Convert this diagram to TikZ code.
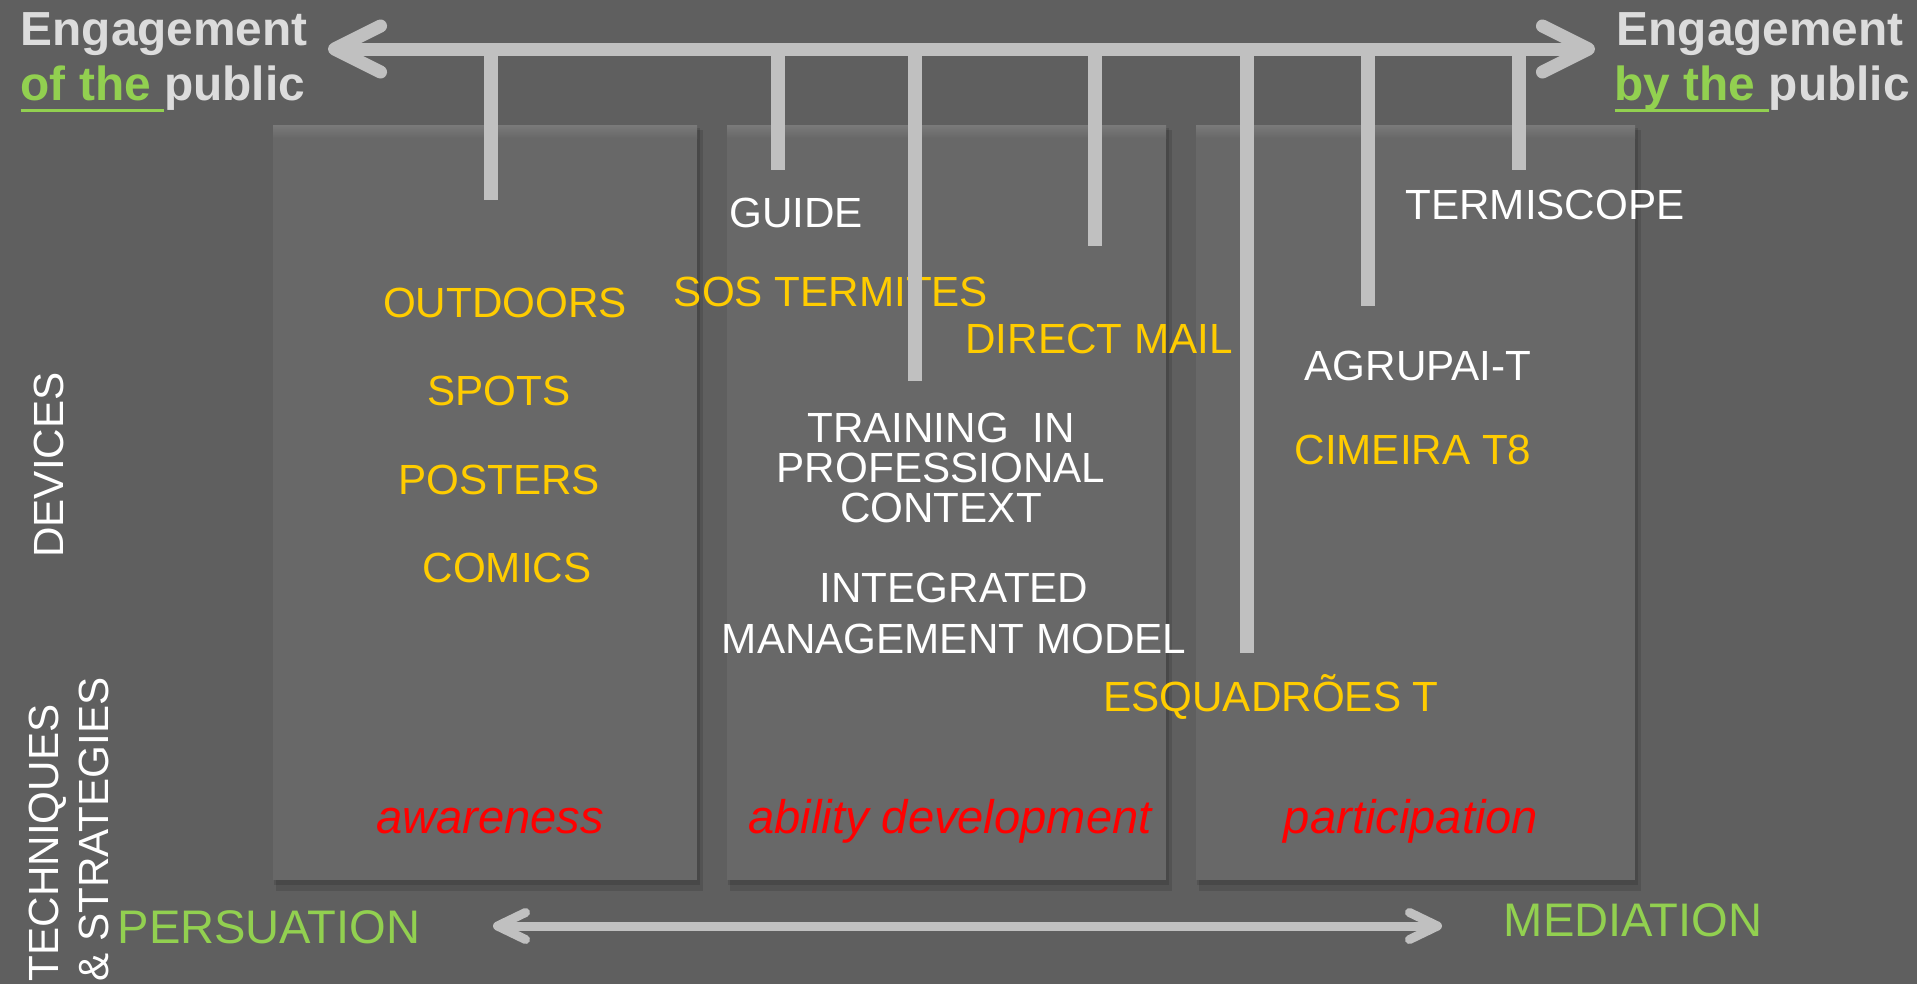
\documentclass[tikz,border=0pt]{standalone}
\usepackage{fontspec}
\setmainfont{Liberation Sans}
\usepackage{tikz}
\usetikzlibrary{arrows.meta}

\definecolor{bggray}{RGB}{95,95,95}
\definecolor{boxgray}{RGB}{104,104,104}
\definecolor{boxtop}{RGB}{122,122,122}
\definecolor{axisgray}{RGB}{192,192,192}
\definecolor{hdrgray}{RGB}{220,220,220}
\definecolor{devyellow}{RGB}{255,204,0}
\definecolor{polegreen}{RGB}{146,208,80}
\definecolor{stratred}{RGB}{255,0,0}

\newcommand{\grnul}[1]{\setbox0\hbox{\textcolor{polegreen}{#1}}\rlap{\textcolor{polegreen}{\rule[-3.4pt]{\wd0}{0.9pt}}}\box0}

\tikzset{
	hdr/.style={inner sep=0pt, anchor=base west, text=hdrgray, font=\bfseries\fontsize{13.6}{16}\selectfont},
	devtxt/.style={inner sep=0pt, align=center, font=\fontsize{12}{14}\selectfont},
	yel/.style={devtxt, text=devyellow},
	wht/.style={devtxt, text=white},
	strat/.style={inner sep=0pt, anchor=base, text=stratred, font=\itshape\fontsize{13.4}{16}\selectfont},
	pole/.style={inner sep=0pt, text=polegreen, font=\fontsize{13.4}{16}\selectfont},
	side/.style={inner sep=0pt, text=white, rotate=90, font=\fontsize{12}{14.4}\selectfont},
	panel/.style={fill=boxgray},
	panelshadow/.style={fill=black, opacity=0.12},
	stub/.style={draw=axisgray, line width=1.4mm},
	topaxis/.style={draw=axisgray, line width=1.3mm, <->, >={Straight Barb[length=4.6mm, width=4.6mm, round]}},
	botaxis/.style={draw=axisgray, line width=0.9mm, <->, >={Straight Barb[length=2.8mm, width=2.7mm, round]}}
}

\begin{document}
\begin{tikzpicture}[x=0.01cm, y=-0.01cm]
	\useasboundingbox (0,0) rectangle (1917,984);
	%Hintergrund
	\fill[bggray] (0,0) rectangle (1917,984);
	%Kaesten zeichnen
	\foreach \xa/\xb in {273/697, 727/1166, 1196/1635}{
		\fill[panelshadow] (\xa+3,130) rectangle (\xb+6,891);
		\fill[panelshadow] (\xa+1,128) rectangle (\xb+3,885);
		\fill[panel] (\xa,125) rectangle (\xb,880);
		\shade[top color=boxtop, bottom color=boxgray] (\xa,125) rectangle (\xb,138);
	}
	%Geraete
	\node[yel] (outdoors) at (505,303) {OUTDOORS};
	\node[yel] (spots) at (499,391) {SPOTS};
	\node[yel] (posters) at (499,480) {POSTERS};
	\node[yel] (comics) at (507,568) {COMICS};
	\node[wht] (guide) at (796,213) {GUIDE};
	\node[yel] (sos) at (831,292) {SOS TERMITES};
	\node[yel] (mail) at (1099,339) {DIRECT MAIL};
	\node[wht, font=\fontsize{12}{11.4}\selectfont] (training) at (941,468) {TRAINING~ IN\\PROFESSIONAL\\CONTEXT};
	\node[wht, font=\fontsize{12}{14.5}\selectfont] (model) at (954,613) {INTEGRATED\\MANAGEMENT MODEL};
	\node[yel] (esquad) at (1271,697) {ESQUADRÕES T};
	\node[wht] (termiscope) at (1545,205) {TERMISCOPE};
	\node[wht] (agrupai) at (1418,366) {AGRUPAI-T};
	\node[yel] (cimeira) at (1413,450) {CIMEIRA T8};
	%Strategien
	\node[strat] (aware) at (490,833) {awareness};
	\node[strat] (ability) at (950,833) {ability development};
	\node[strat] (partic) at (1411,833) {participation};
	%Achse oben
	\coordinate (ofL) at (328,49);
	\coordinate (byR) at (1595,49);
	\foreach \x/\y in {491/200, 778/170, 915/381, 1095/246, 1247/653, 1368/306, 1519/170}
		\draw[stub] (\x,49) -- (\x,\y);
	\draw[topaxis] (ofL) -- (byR);
	\node[hdr] (engLtop) at (20,45) {Engagement};
	\node[hdr] (engLbot) at (20,100) {\grnul{of the }public};
	\node[hdr] (engRtop) at (1616,45) {Engagement};
	\node[hdr] (engRbot) at (1614,100) {\grnul{by the }public};
	%Achse unten
	\coordinate (persL) at (493,926);
	\coordinate (medR) at (1442,926);
	\draw[botaxis] (persL) -- (medR);
	\node[pole] (persuation) at (269,927) {PERSUATION};
	\node[pole] (mediation) at (1633,920) {MEDIATION};
	%Seitentexte
	\node[side] (devices) at (49,465) {DEVICES};
	\node[side, align=left, anchor=south west] (techstrat) at (110,982) {TECHNIQUES\\\& STRATEGIES};
\end{tikzpicture}
\end{document}
